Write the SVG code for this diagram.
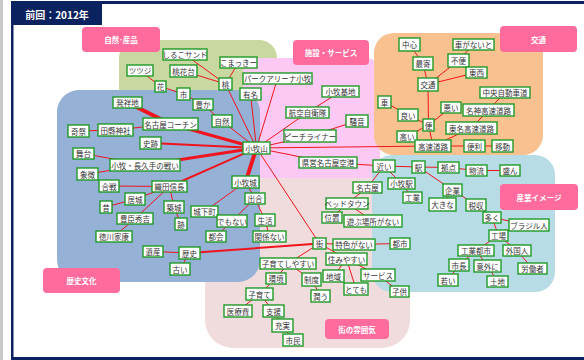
<svg xmlns="http://www.w3.org/2000/svg" width="584" height="360" viewBox="0 0 584 360">
<style>
  .n rect { fill: #ffffff; stroke: #1f9a26; stroke-width: 1.4; }
  .n text { font-family: "Noto Sans CJK JP", "Noto Sans", sans-serif; font-size: 7.5px; fill: #333333; text-anchor: middle; dominant-baseline: central; }
  .cat rect { fill: #ff6b9c; }
  .cat text { font-family: "Noto Sans CJK JP", "Noto Sans", sans-serif; font-size: 7.5px; font-weight: bold; fill: #ffffff; text-anchor: middle; dominant-baseline: central; }
  #connectors line { stroke: #f0141e; stroke-width: 1; stroke-linecap: round; }
  #connectors line.w2 { stroke-width: 2; }
  #connectors line.w3 { stroke-width: 3; }
  #connectors line.w4 { stroke-width: 4; }
</style>

<!-- page frame -->
<rect x="0" y="0" width="584" height="360" fill="#ffffff"/>
<rect x="0" y="0" width="3" height="360" fill="#c8c8c8"/>
<rect x="11" y="1" width="573" height="3" fill="#0b2260"/>
<rect x="11" y="1" width="2.5" height="359" fill="#0b2260"/>
<rect x="11" y="357" width="573" height="3" fill="#0b2260"/>
<rect x="11" y="1" width="91" height="24" fill="#0b2260"/>
<text x="57" y="14" font-family="Noto Sans CJK JP, Noto Sans, sans-serif" font-size="10" font-weight="bold" fill="#ffffff" text-anchor="middle" dominant-baseline="central">前回：2012年</text>

<!-- category areas -->
<g id="areas">
  <rect x="119" y="40" width="158" height="80" rx="18" fill="#c9d7a1"/>
  <rect x="205" y="175" width="205" height="173" rx="28" fill="#f0dcdc"/>
  <rect x="243" y="58" width="137" height="120" rx="14" fill="#fcc9f4"/>
  <rect x="374" y="33" width="169" height="122" rx="20" fill="#f8c18f"/>
  <rect x="372" y="155" width="183" height="137" rx="20" fill="#b8dce6"/>
  <rect x="57" y="90" width="203" height="192" rx="22" fill="#95b1d5"/>
</g>

<!-- category labels -->
<g id="cat-nature" class="cat"><rect x="82" y="27" width="78" height="25" rx="4"/><text x="121" y="39.5">自然･産品</text></g>
<g id="cat-facility" class="cat"><rect x="293" y="40" width="76" height="25" rx="4"/><text x="331" y="52.5">施設・サービス</text></g>
<g id="cat-traffic" class="cat"><rect x="500" y="26" width="77" height="26" rx="4"/><text x="538.5" y="39">交通</text></g>
<g id="cat-industry" class="cat"><rect x="500" y="184" width="78" height="26" rx="4"/><text x="539" y="197">産業イメージ</text></g>
<g id="cat-history" class="cat"><rect x="43" y="268" width="77" height="25" rx="4"/><text x="81.5" y="280.5">歴史文化</text></g>
<g id="cat-town" class="cat"><rect x="325" y="319" width="64" height="20" rx="4"/><text x="357" y="329">街の雰囲気</text></g>

<!-- connectors -->
<g id="connectors">
  <!-- nature / products -->
  <line x1="140" y1="70.5" x2="160.5" y2="86.5"/>
  <line x1="160.5" y1="86.5" x2="183.5" y2="94"/>
  <line x1="183.5" y1="94" x2="203" y2="104.5"/>
  <line x1="203" y1="104.5" x2="222" y2="121"/>
  <line x1="222" y1="121" x2="256.5" y2="148"/>
  <line x1="185" y1="54.5" x2="225.5" y2="84"/>
  <line x1="183.5" y1="71" x2="225.5" y2="84"/>
  <line x1="238.5" y1="62.5" x2="225.5" y2="84"/>
  <line x1="225.5" y1="84" x2="256.5" y2="148"/>
  <line x1="250.5" y1="94" x2="256.5" y2="148"/>
  <line x1="277.5" y1="78.5" x2="256.5" y2="148"/>
  <!-- facilities / services -->
  <line x1="340.5" y1="91.5" x2="307.5" y2="112.5"/>
  <line x1="307.5" y1="112.5" x2="256.5" y2="148"/>
  <line x1="256.5" y1="148" x2="310" y2="136"/>
  <line x1="310" y1="136" x2="357" y2="121"/>
  <line x1="256.5" y1="148" x2="328" y2="162.5"/>
  <line x1="328" y1="162.5" x2="384" y2="166"/>
  <line x1="256.5" y1="148" x2="433" y2="146"/>
  <!-- traffic -->
  <line x1="409.5" y1="44.5" x2="423" y2="63.5"/>
  <line x1="423" y1="63.5" x2="428" y2="84.5"/>
  <line x1="458.5" y1="60.5" x2="428" y2="84.5"/>
  <line x1="476.5" y1="72.5" x2="428" y2="84.5"/>
  <line x1="473.5" y1="44.5" x2="458.5" y2="60.5"/>
  <line x1="428" y1="84.5" x2="428.5" y2="125"/>
  <line x1="428.5" y1="125" x2="451" y2="107.5"/>
  <line x1="428.5" y1="125" x2="408" y2="115"/>
  <line x1="408" y1="115" x2="384.5" y2="102"/>
  <line x1="428.5" y1="125" x2="433" y2="146"/>
  <line x1="407" y1="136.5" x2="428.5" y2="125"/>
  <line x1="471.5" y1="128" x2="433" y2="146"/>
  <line x1="488.5" y1="110" x2="471.5" y2="128"/>
  <line x1="505" y1="92.5" x2="488.5" y2="110"/>
  <line x1="433" y1="146" x2="474.5" y2="146"/>
  <line x1="474.5" y1="146" x2="502.5" y2="146"/>
  <!-- industry -->
  <line x1="384" y1="166" x2="418.5" y2="167"/>
  <line x1="384" y1="166" x2="367.5" y2="187.5"/>
  <line x1="384" y1="166" x2="401.5" y2="183.5"/>
  <line x1="401.5" y1="183.5" x2="412.5" y2="197.5"/>
  <line x1="418.5" y1="167" x2="448.5" y2="167.5"/>
  <line x1="448.5" y1="167.5" x2="476.5" y2="170.5"/>
  <line x1="476.5" y1="170.5" x2="510" y2="170.5"/>
  <line x1="418.5" y1="167" x2="452.5" y2="190"/>
  <line x1="452.5" y1="190" x2="442.5" y2="204.5"/>
  <line x1="452.5" y1="190" x2="476" y2="205"/>
  <line x1="476" y1="205" x2="492" y2="217.5"/>
  <line x1="492" y1="217.5" x2="529" y2="225"/>
  <line x1="492" y1="217.5" x2="498.5" y2="235.5"/>
  <line x1="498.5" y1="235.5" x2="476" y2="250.5"/>
  <line x1="498.5" y1="235.5" x2="517" y2="250.5"/>
  <line x1="517" y1="250.5" x2="532.5" y2="268.5"/>
  <line x1="476" y1="250.5" x2="459" y2="265"/>
  <line x1="476" y1="250.5" x2="487.5" y2="266"/>
  <line x1="459" y1="265" x2="448" y2="280"/>
  <line x1="487.5" y1="266" x2="497.5" y2="281.5"/>
  <!-- town -->
  <line x1="367.5" y1="187.5" x2="347" y2="203.5"/>
  <line x1="347" y1="203.5" x2="332" y2="217.5"/>
  <line x1="347" y1="203.5" x2="373" y2="221"/>
  <line x1="256.5" y1="148" x2="319.5" y2="243.5"/>
  <line x1="319.5" y1="243.5" x2="354" y2="244.5"/>
  <line x1="354" y1="244.5" x2="400" y2="243.5"/>
  <line x1="319.5" y1="243.5" x2="346.5" y2="259"/>
  <line x1="319.5" y1="243.5" x2="288" y2="263.5"/>
  <line x1="288" y1="263.5" x2="276" y2="278.5"/>
  <line x1="288" y1="263.5" x2="311.5" y2="279.5"/>
  <line x1="346.5" y1="259" x2="333.5" y2="276"/>
  <line x1="346.5" y1="259" x2="356" y2="289"/>
  <line x1="346.5" y1="259" x2="378" y2="275"/>
  <line x1="378" y1="275" x2="399.5" y2="291.5"/>
  <line x1="276" y1="278.5" x2="259.5" y2="294"/>
  <line x1="259.5" y1="294" x2="238" y2="311"/>
  <line x1="259.5" y1="294" x2="273.5" y2="311"/>
  <line x1="273.5" y1="311" x2="282.5" y2="325.5"/>
  <line x1="282.5" y1="325.5" x2="293" y2="340"/>
  <line x1="311.5" y1="279.5" x2="320.5" y2="296"/>
  <line class="w2" x1="189.5" y1="253" x2="319.5" y2="243.5"/>
  <!-- history / culture -->
  <line class="w4" x1="127.5" y1="102.5" x2="170.5" y2="124"/>
  <line class="w3" x1="170.5" y1="124" x2="256.5" y2="148"/>
  <line x1="170.5" y1="124" x2="115.5" y2="130"/>
  <line x1="115.5" y1="130" x2="78.5" y2="131"/>
  <line class="w2" x1="150.5" y1="143" x2="256.5" y2="148"/>
  <line class="w3" x1="145" y1="165" x2="256.5" y2="148"/>
  <line x1="145" y1="165" x2="83.5" y2="153.5"/>
  <line x1="145" y1="165" x2="87.5" y2="174"/>
  <line class="w2" x1="169.5" y1="186.5" x2="256.5" y2="148"/>
  <line x1="169.5" y1="186.5" x2="109" y2="186"/>
  <line x1="169.5" y1="186.5" x2="135" y2="199"/>
  <line x1="135" y1="199" x2="106" y2="207"/>
  <line x1="169.5" y1="186.5" x2="135" y2="218.5"/>
  <line x1="135" y1="218.5" x2="114" y2="236.5"/>
  <line x1="169.5" y1="186.5" x2="174" y2="207"/>
  <line x1="174" y1="207" x2="181" y2="224"/>
  <line class="w4" x1="256.5" y1="148" x2="245.5" y2="182"/>
  <line x1="245.5" y1="182" x2="204.5" y2="211.5"/>
  <line x1="245.5" y1="182" x2="255" y2="198.5"/>
  <line x1="255" y1="198.5" x2="232" y2="221"/>
  <line x1="255" y1="198.5" x2="265" y2="220"/>
  <line x1="265" y1="220" x2="269.5" y2="236.5"/>
  <line x1="232" y1="221" x2="216" y2="236.5"/>
  <line x1="153" y1="251.5" x2="189.5" y2="253"/>
  <line x1="189.5" y1="253" x2="180" y2="269"/>
</g>

<!-- nodes: nature / products -->
<g id="n-shiruko" class="n"><rect x="163" y="49" width="44" height="11"/><text x="185" y="54.5">しるこサンド</text></g>
<g id="n-toukadai" class="n"><rect x="170" y="65" width="27" height="12"/><text x="183.5" y="71">桃花台</text></g>
<g id="n-tsutsuji" class="n"><rect x="127" y="65" width="26" height="11"/><text x="140" y="70.5">ツツジ</text></g>
<g id="n-hana" class="n"><rect x="155" y="81" width="11" height="11"/><text x="160.5" y="86.5">花</text></g>
<g id="n-shi" class="n"><rect x="177" y="88" width="13" height="12"/><text x="183.5" y="94">市</text></g>
<g id="n-yutaka" class="n"><rect x="193" y="99" width="20" height="11"/><text x="203" y="104.5">豊か</text></g>
<g id="n-momo" class="n"><rect x="219" y="78" width="13" height="12"/><text x="225.5" y="84">桃</text></g>
<g id="n-komakky" class="n"><rect x="220" y="57" width="37" height="11"/><text x="238.5" y="62.5">こまっきー</text></g>
<g id="n-shizen" class="n"><rect x="212" y="115" width="20" height="12"/><text x="222" y="121">自然</text></g>

<!-- nodes: facilities / services -->
<g id="n-park" class="n"><rect x="243" y="73" width="69" height="11"/><text x="277.5" y="78.5">パークアリーナ小牧</text></g>
<g id="n-yumei" class="n"><rect x="240" y="88" width="21" height="12"/><text x="250.5" y="94">有名</text></g>
<g id="n-kichi" class="n"><rect x="322" y="86" width="37" height="11"/><text x="340.5" y="91.5">小牧基地</text></g>
<g id="n-jieitai" class="n"><rect x="286" y="107" width="43" height="11"/><text x="307.5" y="112.5">航空自衛隊</text></g>
<g id="n-souon" class="n"><rect x="346" y="115" width="22" height="12"/><text x="357" y="121">騒音</text></g>
<g id="n-peach" class="n"><rect x="284" y="130" width="52" height="12"/><text x="310" y="136">ピーチライナー</text></g>
<g id="n-komakiyama" class="n"><rect x="243" y="142" width="27" height="12"/><text x="256.5" y="148">小牧山</text></g>
<g id="n-kuko" class="n"><rect x="299" y="157" width="58" height="11"/><text x="328" y="162.5">県営名古屋空港</text></g>

<!-- nodes: traffic -->
<g id="n-chushin" class="n"><rect x="399" y="38" width="21" height="13"/><text x="409.5" y="44.5">中心</text></g>
<g id="n-kuruma-nai" class="n"><rect x="453" y="39" width="41" height="11"/><text x="473.5" y="44.5">車がないと</text></g>
<g id="n-moyori" class="n"><rect x="413" y="57" width="20" height="13"/><text x="423" y="63.5">最寄</text></g>
<g id="n-fuben" class="n"><rect x="448" y="54" width="21" height="13"/><text x="458.5" y="60.5">不便</text></g>
<g id="n-tozai" class="n"><rect x="466" y="67" width="21" height="11"/><text x="476.5" y="72.5">東西</text></g>
<g id="n-kotsu" class="n"><rect x="418" y="78" width="20" height="13"/><text x="428" y="84.5">交通</text></g>
<g id="n-chuo" class="n"><rect x="480" y="87" width="50" height="11"/><text x="505" y="92.5">中央自動車道</text></g>
<g id="n-kuruma" class="n"><rect x="378" y="96" width="13" height="12"/><text x="384.5" y="102">車</text></g>
<g id="n-warui" class="n"><rect x="441" y="102" width="20" height="11"/><text x="451" y="107.5">悪い</text></g>
<g id="n-meishin" class="n"><rect x="463" y="104" width="51" height="12"/><text x="488.5" y="110">名神高速道路</text></g>
<g id="n-yoi" class="n"><rect x="398" y="109" width="20" height="12"/><text x="408" y="115">良い</text></g>
<g id="n-ben" class="n"><rect x="423" y="119" width="11" height="12"/><text x="428.5" y="125">便</text></g>
<g id="n-tomei" class="n"><rect x="446" y="122" width="51" height="12"/><text x="471.5" y="128">東名高速道路</text></g>
<g id="n-takai" class="n"><rect x="397" y="131" width="20" height="11"/><text x="407" y="136.5">高い</text></g>
<g id="n-kosoku" class="n"><rect x="415" y="140" width="36" height="12"/><text x="433" y="146">高速道路</text></g>
<g id="n-benri" class="n"><rect x="464" y="140" width="21" height="12"/><text x="474.5" y="146">便利</text></g>
<g id="n-ido" class="n"><rect x="492" y="140" width="21" height="12"/><text x="502.5" y="146">移動</text></g>

<!-- nodes: industry -->
<g id="n-chikai" class="n"><rect x="373" y="160" width="22" height="12"/><text x="384" y="166">近い</text></g>
<g id="n-eki" class="n"><rect x="412" y="161" width="13" height="12"/><text x="418.5" y="167">駅</text></g>
<g id="n-kyoten" class="n"><rect x="438" y="162" width="21" height="11"/><text x="448.5" y="167.5">拠点</text></g>
<g id="n-butsuryu" class="n"><rect x="466" y="165" width="21" height="11"/><text x="476.5" y="170.5">物流</text></g>
<g id="n-sakan" class="n"><rect x="500" y="165" width="20" height="11"/><text x="510" y="170.5">盛ん</text></g>
<g id="n-komakieki" class="n"><rect x="388" y="178" width="27" height="11"/><text x="401.5" y="183.5">小牧駅</text></g>
<g id="n-kogyo" class="n"><rect x="403" y="192" width="19" height="11"/><text x="412.5" y="197.5">工業</text></g>
<g id="n-kigyo" class="n"><rect x="443" y="184" width="19" height="12"/><text x="452.5" y="190">企業</text></g>
<g id="n-okina" class="n"><rect x="429" y="198" width="27" height="13"/><text x="442.5" y="204.5">大きな</text></g>
<g id="n-zeishu" class="n"><rect x="466" y="199" width="20" height="12"/><text x="476" y="205">税収</text></g>
<g id="n-ooku" class="n"><rect x="483" y="212" width="18" height="11"/><text x="492" y="217.5">多く</text></g>
<g id="n-brazil" class="n"><rect x="509" y="219" width="40" height="12"/><text x="529" y="225">ブラジル人</text></g>
<g id="n-kojo" class="n"><rect x="489" y="230" width="19" height="11"/><text x="498.5" y="235.5">工場</text></g>
<g id="n-kogyotoshi" class="n"><rect x="458" y="245" width="36" height="11"/><text x="476" y="250.5">工業都市</text></g>
<g id="n-gaikokujin" class="n"><rect x="503" y="245" width="28" height="11"/><text x="517" y="250.5">外国人</text></g>
<g id="n-shicho" class="n"><rect x="449" y="259" width="20" height="12"/><text x="459" y="265">市長</text></g>
<g id="n-igaini" class="n"><rect x="474" y="260" width="27" height="12"/><text x="487.5" y="266">意外に</text></g>
<g id="n-rodosha" class="n"><rect x="518" y="263" width="29" height="11"/><text x="532.5" y="268.5">労働者</text></g>
<g id="n-wakai" class="n"><rect x="438" y="274" width="20" height="12"/><text x="448" y="280">若い</text></g>
<g id="n-tochi" class="n"><rect x="487" y="276" width="21" height="11"/><text x="497.5" y="281.5">土地</text></g>

<!-- nodes: town atmosphere -->
<g id="n-nagoya" class="n"><rect x="353" y="182" width="29" height="11"/><text x="367.5" y="187.5">名古屋</text></g>
<g id="n-bedtown" class="n"><rect x="326" y="198" width="42" height="11"/><text x="347" y="203.5">ベッドタウン</text></g>
<g id="n-ichi" class="n"><rect x="322" y="212" width="20" height="11"/><text x="332" y="217.5">位置</text></g>
<g id="n-asobu" class="n"><rect x="344" y="215" width="58" height="12"/><text x="373" y="221">遊ぶ場所がない</text></g>
<g id="n-machi" class="n"><rect x="313" y="238" width="13" height="11"/><text x="319.5" y="243.5">街</text></g>
<g id="n-tokushoku" class="n"><rect x="333" y="239" width="42" height="11"/><text x="354" y="244.5">特色がない</text></g>
<g id="n-toshi" class="n"><rect x="390" y="238" width="20" height="11"/><text x="400" y="243.5">都市</text></g>
<g id="n-sumiyasui" class="n"><rect x="326" y="253" width="41" height="12"/><text x="346.5" y="259">住みやすい</text></g>
<g id="n-kosodate-yasui" class="n"><rect x="260" y="258" width="56" height="11"/><text x="288" y="263.5">子育てしやすい</text></g>
<g id="n-kankyo" class="n"><rect x="266" y="273" width="20" height="11"/><text x="276" y="278.5">環境</text></g>
<g id="n-seido" class="n"><rect x="302" y="273" width="19" height="13"/><text x="311.5" y="279.5">制度</text></g>
<g id="n-chiiki" class="n"><rect x="323" y="270" width="21" height="12"/><text x="333.5" y="276">地域</text></g>
<g id="n-service" class="n"><rect x="361" y="269" width="34" height="12"/><text x="378" y="275">サービス</text></g>
<g id="n-totemo" class="n"><rect x="344" y="283" width="24" height="12"/><text x="356" y="289">とても</text></g>
<g id="n-kodomo" class="n"><rect x="390" y="286" width="19" height="11"/><text x="399.5" y="291.5">子供</text></g>
<g id="n-kosodate" class="n"><rect x="246" y="288" width="27" height="12"/><text x="259.5" y="294">子育て</text></g>
<g id="n-uruou" class="n"><rect x="311" y="290" width="19" height="12"/><text x="320.5" y="296">潤う</text></g>
<g id="n-iryohi" class="n"><rect x="224" y="305" width="28" height="12"/><text x="238" y="311">医療費</text></g>
<g id="n-shien" class="n"><rect x="263" y="305" width="21" height="12"/><text x="273.5" y="311">支援</text></g>
<g id="n-jujitsu" class="n"><rect x="272" y="319" width="21" height="13"/><text x="282.5" y="325.5">充実</text></g>
<g id="n-shimin" class="n"><rect x="283" y="334" width="20" height="12"/><text x="293" y="340">市民</text></g>

<!-- nodes: history / culture -->
<g id="n-hasshochi" class="n"><rect x="113" y="97" width="29" height="11"/><text x="127.5" y="102.5">発祥地</text></g>
<g id="n-cochin" class="n"><rect x="143" y="118" width="55" height="12"/><text x="170.5" y="124">名古屋コーチン</text></g>
<g id="n-tagata" class="n"><rect x="98" y="124" width="35" height="12"/><text x="115.5" y="130">田縣神社</text></g>
<g id="n-kisai" class="n"><rect x="68" y="125" width="21" height="12"/><text x="78.5" y="131">奇祭</text></g>
<g id="n-shiseki" class="n"><rect x="140" y="137" width="21" height="12"/><text x="150.5" y="143">史跡</text></g>
<g id="n-butai" class="n"><rect x="73" y="148" width="21" height="11"/><text x="83.5" y="153.5">舞台</text></g>
<g id="n-tatakai" class="n"><rect x="110" y="159" width="70" height="12"/><text x="145" y="165">小牧・長久手の戦い</text></g>
<g id="n-shocho" class="n"><rect x="77" y="168" width="21" height="12"/><text x="87.5" y="174">象徴</text></g>
<g id="n-kassen" class="n"><rect x="99" y="180" width="20" height="12"/><text x="109" y="186">合戦</text></g>
<g id="n-nobunaga" class="n"><rect x="152" y="181" width="35" height="11"/><text x="169.5" y="186.5">織田信長</text></g>
<g id="n-kyojo" class="n"><rect x="125" y="193" width="20" height="12"/><text x="135" y="199">居城</text></g>
<g id="n-mukashi" class="n"><rect x="100" y="201" width="12" height="12"/><text x="106" y="207">昔</text></g>
<g id="n-chikujo" class="n"><rect x="164" y="201" width="20" height="12"/><text x="174" y="207">築城</text></g>
<g id="n-hideyoshi" class="n"><rect x="117" y="213" width="36" height="11"/><text x="135" y="218.5">豊臣秀吉</text></g>
<g id="n-ieyasu" class="n"><rect x="96" y="231" width="36" height="11"/><text x="114" y="236.5">徳川家康</text></g>
<g id="n-ato" class="n"><rect x="175" y="218" width="12" height="12"/><text x="181" y="224">跡</text></g>
<g id="n-komakijo" class="n"><rect x="232" y="176" width="27" height="12"/><text x="245.5" y="182">小牧城</text></g>
<g id="n-deai" class="n"><rect x="245" y="193" width="20" height="11"/><text x="255" y="198.5">出合</text></g>
<g id="n-jokamachi" class="n"><rect x="191" y="206" width="27" height="11"/><text x="204.5" y="211.5">城下町</text></g>
<g id="n-demonai" class="n"><rect x="217" y="215" width="30" height="12"/><text x="232" y="221">でもない</text></g>
<g id="n-seikatsu" class="n"><rect x="255" y="214" width="20" height="12"/><text x="265" y="220">生活</text></g>
<g id="n-kankeinai" class="n"><rect x="253" y="231" width="33" height="11"/><text x="269.5" y="236.5">関係ない</text></g>
<g id="n-tokai" class="n"><rect x="206" y="231" width="20" height="11"/><text x="216" y="236.5">都会</text></g>
<g id="n-isan" class="n"><rect x="143" y="246" width="20" height="11"/><text x="153" y="251.5">遺産</text></g>
<g id="n-rekishi" class="n"><rect x="179" y="247" width="21" height="12"/><text x="189.5" y="253">歴史</text></g>
<g id="n-furui" class="n"><rect x="170" y="263" width="20" height="12"/><text x="180" y="269">古い</text></g>
</svg>
